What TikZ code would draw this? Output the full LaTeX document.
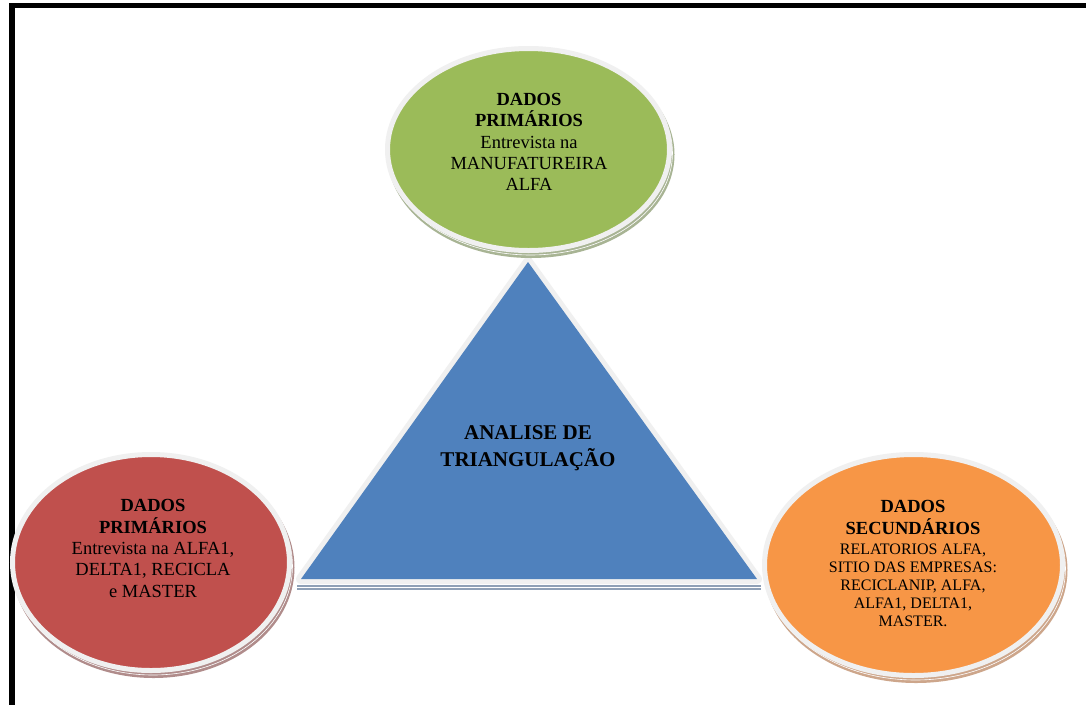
\documentclass[tikz,border=0pt]{standalone}
\usepackage{fontspec}
\setmainfont{Liberation Serif}
\usetikzlibrary{shapes.geometric}

\definecolor{leafgreen}{HTML}{9BBB59}
\definecolor{brickred}{HTML}{C0504D}
\definecolor{warmorange}{HTML}{F79646}
\definecolor{steelblue}{HTML}{4F81BD}
\definecolor{rimgray}{HTML}{F0F0F0}
\definecolor{greenshade}{HTML}{A8B494}
\definecolor{redshade}{HTML}{B08C8B}
\definecolor{orangeshade}{HTML}{CDA68B}
\definecolor{baseshade}{HTML}{8FA0B6}

\begin{document}
\begin{tikzpicture}[x=1pt,y=-1pt,
  bubble/.style={ellipse, draw=rimgray, line width=5pt, inner sep=0pt},
  bubbletext/.style={align=center, inner sep=0pt, anchor=north,
    font=\fontsize{18.5}{21.3}\selectfont},
  centretext/.style={align=center, inner sep=0pt, anchor=north,
    font=\fontsize{21}{27.5}\selectfont\bfseries}]

\useasboundingbox (0,0) rectangle (1086,705);
\fill[white] (0,0) rectangle (1086,705);

% page frame (top and left rules)
\draw[line width=5.5pt] (1086,5.5) -- (12,5.5) -- (12,705);

% central triangle
\coordinate (apex) at (528,262);
\coordinate (bl) at (301,579);
\coordinate (br) at (757,579);
\draw[rimgray, line width=10pt, line join=round] (apex) -- (bl) -- (br) -- cycle;
\fill[steelblue] (apex) -- (bl) -- (br) -- cycle;
\draw[baseshade, line width=1.3pt] ([shift={(-4,7)}]bl) -- ([shift={(4,7)}]br);
\draw[baseshade, line width=1.3pt] ([shift={(-4,10)}]bl) -- ([shift={(4,10)}]br);
\node[centretext] (analise) at (528,425) {ANALISE DE\\TRIANGULAÇÃO};

% ellipse centres
\coordinate (gc) at (528.5,149.5);
\coordinate (rc) at (151,562.5);
\coordinate (oc) at (913.5,565);

% soft shadows under the ellipses
\fill[greenshade] ([shift={(2.5,5)}]gc) ellipse [x radius=143.5pt, y radius=103.5pt];
\fill[redshade] ([shift={(2.5,5)}]rc) ellipse [x radius=141pt, y radius=110.5pt];
\fill[orangeshade] ([shift={(2.5,5)}]oc) ellipse [x radius=151.5pt, y radius=113pt];
\draw[white, line width=0.6pt] ([shift={(2,3.5)}]gc) ellipse [x radius=142pt, y radius=102pt];
\draw[white, line width=0.6pt] ([shift={(2,3.5)}]rc) ellipse [x radius=139.5pt, y radius=109pt];
\draw[white, line width=0.6pt] ([shift={(2,3.5)}]oc) ellipse [x radius=150pt, y radius=111.5pt];

% the three data sources
\node[bubble, fill=leafgreen, minimum width=282pt, minimum height=202pt] (green) at (gc) {};
\node[bubble, fill=brickred, minimum width=277pt, minimum height=216pt] (red) at (rc) {};
\node[bubble, fill=warmorange, minimum width=298pt, minimum height=221pt] (orange) at (oc) {};

\node[bubbletext] (greentext) at (529,93)
  {\textbf{DADOS}\\\textbf{PRIMÁRIOS}\\Entrevista na\\MANUFATUREIRA\\ALFA};
\node[bubbletext] (redtext) at (153,499.5)
  {\textbf{DADOS}\\\textbf{PRIMÁRIOS}\\Entrevista na ALFA1,\\DELTA1, RECICLA\\e MASTER};
\node[bubbletext] (orangetext) at (913,500.5)
  {\textbf{DADOS}\\\textbf{SECUNDÁRIOS}\\[-0.6pt]
   {\fontsize{16}{18}\selectfont RELATORIOS ALFA,}\\[-3.3pt]
   {\fontsize{16}{18}\selectfont SITIO DAS EMPRESAS:}\\[-3.3pt]
   {\fontsize{16}{18}\selectfont RECICLANIP, ALFA,}\\[-3.3pt]
   {\fontsize{16}{18}\selectfont ALFA1, DELTA1,}\\[-3.3pt]
   {\fontsize{16}{18}\selectfont MASTER.}};
\end{tikzpicture}
\end{document}
